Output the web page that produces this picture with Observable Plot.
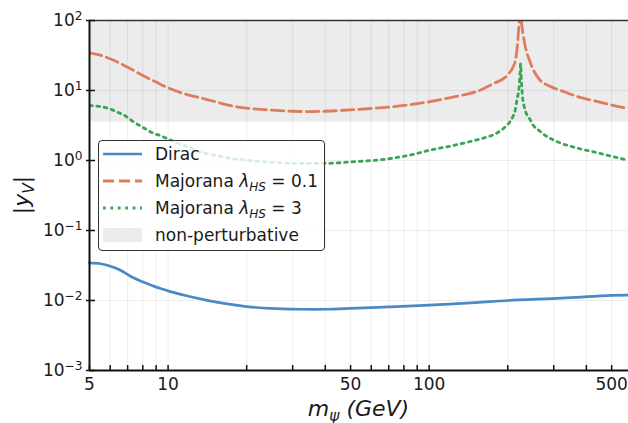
<!DOCTYPE html>
<html>
<head>
<meta charset="utf-8">
<script src="https://cdn.jsdelivr.net/npm/d3@7"></script>
<script src="https://cdn.jsdelivr.net/npm/@observablehq/plot@0.6"></script>
<style>
  body { margin: 0; background: #fff; }
  #wrap { position: relative; width: 628px; height: 423px; font-family: "DejaVu Sans", sans-serif; overflow: hidden; }
  #legend { position: absolute; left: 98px; top: 140px; width: 227px; height: 111px; box-sizing: border-box;
            border: 1.2px solid #333; border-radius: 4px; background: rgba(255,255,255,0.8); }
  .row { height: 27px; display: flex; align-items: center; font-size: 17px; color: #1a1a1a; white-space: nowrap; }
  .row:first-child { margin-top: -1px; }
  .row svg { margin-left: 4px; margin-right: 13px; flex: none; }
  .sub { font-size: 12px; position: relative; top: 4px; font-style: italic; }
</style>
</head>
<body>
<div id="wrap">
  <div id="legend"></div>
</div>
<script>
// ---- data ----
const massDirac = [5, 5.51, 6.02, 6.57, 7.18, 7.84, 8.57, 9.36, 10.2, 11.66, 13.3, 16.6, 20, 24.7, 32, 40, 50, 70, 100, 150, 200, 320, 500, 580];
const yDirac    = [0.0344, 0.0335, 0.0309, 0.0270, 0.0222, 0.0190, 0.0167, 0.0148, 0.0134, 0.0118, 0.01057, 0.0090, 0.0082, 0.0077, 0.0075, 0.0075, 0.0077, 0.0081, 0.0086, 0.0093, 0.0100, 0.0108, 0.0118, 0.0119];

const massMaj01 = [5, 5.5, 6, 7, 8, 9, 10, 12, 13.4, 15, 18, 20, 24, 30, 35, 40, 50, 70, 100, 130, 150, 176, 199, 210, 214, 218, 221, 224, 226, 231, 245, 262, 290, 320, 370, 430, 500, 580];
const yMaj01    = [34.5, 32, 28.4, 21.5, 16.4, 13.2, 10.9, 8.6, 7.8, 7.0, 5.9, 5.6, 5.3, 5.05, 5.0, 5.05, 5.3, 5.8, 6.9, 8.4, 9.5, 12.5, 16.5, 22, 27, 46, 90, 130, 90, 52, 24, 15, 11.5, 10.0, 8.2, 7.1, 6.2, 5.5];

const massMaj3 = [5, 5.5, 6, 6.4, 6.9, 7.4, 7.9, 8.3, 8.8, 9.4, 10, 11, 12, 13.3, 15, 17.8, 20, 24, 32, 40, 50, 71, 85, 101, 121, 144, 162, 181, 191, 201, 209, 214, 216, 218.7, 220.7, 222.7, 224, 225.5, 227.5, 230.7, 234.5, 243, 250.6, 263, 279, 310, 370, 430, 500, 580];
const yMaj3    = [6.1, 5.9, 5.45, 4.9, 4.27, 3.53, 3.06, 2.74, 2.45, 2.25, 2.02, 1.75, 1.55, 1.32, 1.2, 1.06, 1.01, 0.95, 0.91, 0.91, 0.952, 1.068, 1.2, 1.41, 1.61, 1.87, 2.1, 2.45, 2.8, 3.35, 4.2, 5.4, 6.8, 8.5, 10.6, 17.3, 24, 14, 8.5, 6.1, 4.9, 3.9, 3.16, 2.7, 2.27, 1.85, 1.5, 1.32, 1.15, 1.0];

const npThreshold = 3.54;           // non-perturbative bound on |y_V|
const xDomain = [5, 580];
const yDomain = [1e-3, 1e2];
const xTicks = [5, 6, 7, 8, 9, 10, 20, 30, 40, 50, 60, 70, 80, 90, 100, 200, 300, 400, 500];
const xLabelTicks = [5, 10, 50, 100, 500];
const yTicks = [1e-3, 1e-2, 1e-1, 1, 10, 100];

const seriesNames = ["Dirac", "Majorana λHS = 0.1", "Majorana λHS = 3", "non-perturbative"];
const colors = { dirac: "#4a89c5", maj01: "#dd7d5c", maj3: "#3aa655", band: "#ececec" };

// ---- tables ----
const dirac = massDirac.map((m, i) => ({ m, v: yDirac[i] }));
const maj01 = massMaj01.map((m, i) => ({ m, v: yMaj01[i] }));
const maj3  = massMaj3.map((m, i) => ({ m, v: yMaj3[i] }));

const plot = Plot.plot({
  width: 628, height: 423,
  marginLeft: 89, marginRight: 0, marginTop: 20, marginBottom: 53,
  style: { fontFamily: "DejaVu Sans", fontSize: "17px", color: "#1a1a1a", background: "transparent", overflow: "visible" },
  x: { type: "log", domain: xDomain },
  y: { type: "log", domain: yDomain },
  marks: [
    Plot.rect([{ lo: npThreshold, hi: yDomain[1] }], { y1: "lo", y2: "hi", fill: colors.band }),
    Plot.gridX(xTicks, { stroke: "#000", strokeOpacity: 0.07, strokeWidth: 1 }),
    Plot.gridY(yTicks, { stroke: "#000", strokeOpacity: 0.07, strokeWidth: 1 }),
    Plot.line(dirac, { x: "m", y: "v", stroke: colors.dirac, strokeWidth: 2.7, curve: "catmull-rom" }),
    Plot.line(maj01, { x: "m", y: "v", stroke: colors.maj01, strokeWidth: 2.8, strokeDasharray: "12.5,5", curve: "monotone-x", clip: true }),
    Plot.line(maj3,  { x: "m", y: "v", stroke: colors.maj3, strokeWidth: 2.8, strokeDasharray: "2.8,4.6", curve: "monotone-x", clip: true }),
    Plot.ruleX([xDomain[0]], { stroke: "#111", strokeWidth: 2 }),
    Plot.ruleY([yDomain[0]], { stroke: "#111", strokeWidth: 2 }),
    Plot.ruleY([yDomain[1]], { stroke: "#333", strokeWidth: 1.5 }),
    Plot.axisX(xTicks, { tickSize: 5, dy: -5, text: () => "", stroke: "#111", strokeWidth: 1.5, label: null }),
    Plot.axisX(xLabelTicks, { tickSize: 0, tickPadding: 7, text: d => String(d), label: null }),
    Plot.axisY(yTicks, { tickSize: 9, dx: 6, text: () => "", stroke: "#111", strokeWidth: 1.5, label: null }),
    Plot.axisY(yTicks, { tickSize: 0, tickPadding: 7, text: d => "E" + Math.round(Math.log10(d)), label: null })
  ]
});

// superscript exponents on y tick labels
d3.select(plot).selectAll("text").each(function () {
  const t = this.textContent;
  if (/^E-?\d+$/.test(t)) {
    const e = +t.slice(1);
    const sel = d3.select(this);
    sel.text("10");
    sel.append("tspan").attr("dy", "-5.5").attr("font-size", "12.2px").text(String(e).replace("-", "\u2212"));
  }
});

// axis titles
const svg = d3.select(plot);
const xl = svg.append("text").attr("x", (89 + 628) / 2).attr("y", 416)
  .attr("text-anchor", "middle").attr("font-size", "22px").attr("font-style", "italic").attr("fill", "#1a1a1a");
xl.append("tspan").text("m");
xl.append("tspan").attr("font-size", "15.4px").attr("dy", 4.5).text("ψ");
xl.append("tspan").attr("dy", -4.5).text(" (GeV)");

const yl = svg.append("text").attr("transform", "translate(29,195) rotate(-90)")
  .attr("text-anchor", "middle").attr("font-size", "22px").attr("fill", "#1a1a1a");
yl.append("tspan").text("|");
yl.append("tspan").attr("font-style", "italic").text("y");
yl.append("tspan").attr("font-style", "italic").attr("font-size", "15.4px").attr("dy", 4.5).text("V");
yl.append("tspan").attr("dy", -4.5).text("|");

document.getElementById("wrap").insertBefore(plot, document.getElementById("legend"));

// legend
const swatch = {
  Dirac: `<svg width="39" height="14"><line x1="0" x2="39" y1="7" y2="7" stroke="${colors.dirac}" stroke-width="2.7"/></svg>`,
  maj01: `<svg width="39" height="14"><line x1="0" x2="39" y1="7" y2="7" stroke="${colors.maj01}" stroke-width="2.8" stroke-dasharray="11,5"/></svg>`,
  maj3: `<svg width="39" height="14"><line x1="0" x2="39" y1="7" y2="7" stroke="${colors.maj3}" stroke-width="2.8" stroke-dasharray="2.8,4.6"/></svg>`,
  band: `<svg width="39" height="14"><rect x="0" y="0" width="39" height="14" fill="${colors.band}"/></svg>`
};
document.getElementById("legend").innerHTML =
  `<div class="row">${swatch.Dirac}<span>${seriesNames[0]}</span></div>` +
  `<div class="row">${swatch.maj01}<span>Majorana <i>λ</i><span class="sub">HS</span> = 0.1</span></div>` +
  `<div class="row">${swatch.maj3}<span>Majorana <i>λ</i><span class="sub">HS</span> = 3</span></div>` +
  `<div class="row">${swatch.band}<span>${seriesNames[3]}</span></div>`;
</script>
</body>
</html>
